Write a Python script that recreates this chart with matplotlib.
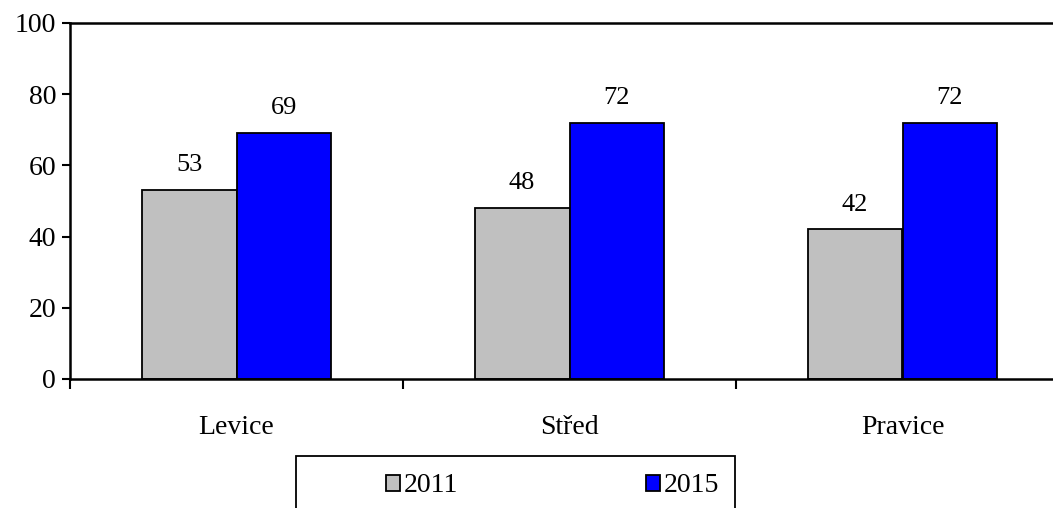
import numpy as np
import matplotlib.pyplot as plt
from matplotlib.patches import Patch, Rectangle

plt.rcParams['font.family'] = ['Liberation Serif', 'DejaVu Serif']

categories = ["Levice", "Střed", "Pravice"]
years = ["2011", "2015"]
v2011 = [53, 48, 42]
v2015 = [69, 72, 72]
colors = ["#C0C0C0", "#0000FF"]

fig = plt.figure(figsize=(10.53, 5.08), dpi=100)
ax = fig.add_axes([70 / 1053, 1 - 379 / 508, 999 / 1053, 356 / 508])

x = np.arange(len(categories))
w = 0.285
b1 = ax.bar(x - w / 2, v2011, w, color=colors[0], edgecolor="black", linewidth=1.3)
b2 = ax.bar(x + w / 2, v2015, w, color=colors[1], edgecolor="black", linewidth=1.3)
ax.bar_label(b1, padding=10, fontsize=19)
ax.bar_label(b2, padding=10, fontsize=19)

ax.set_xlim(-0.5, 2.5)
ax.set_ylim(0, 100)
ax.set_yticks(range(0, 101, 20))
ax.tick_params(axis="y", labelsize=20, direction="out", length=6, width=1.5, pad=4)

ax.set_xticks(x)
ax.set_xticklabels(categories)
ax.tick_params(axis="x", which="major", length=0, labelsize=20, pad=26)
ax.set_xticks([-0.5, 0.5, 1.5], minor=True)
ax.tick_params(axis="x", which="minor", direction="out", length=7, width=1.5)

for s in ["left", "bottom", "top", "right"]:
    ax.spines[s].set_linewidth(1.8)

# legend box, cut off by the bottom edge like the original
frame = Rectangle((296 / 1053, -0.1), 439 / 1053, 1 - 456 / 508 + 0.1,
                  transform=fig.transFigure, facecolor="white", edgecolor="black",
                  linewidth=1.3)
fig.patches.append(frame)

handles = [Patch(facecolor=c, edgecolor="black", linewidth=1.3) for c in colors]
leg = fig.legend(handles, years, loc="center left",
                 bbox_to_anchor=(386 / 1053, 1 - 486 / 508),
                 ncol=2, fontsize=20, frameon=False,
                 handlelength=0.5, handleheight=0.5,
                 handletextpad=0.15, columnspacing=6.75, borderaxespad=0,
                 borderpad=0)

fig.savefig("out.png", dpi=100)
